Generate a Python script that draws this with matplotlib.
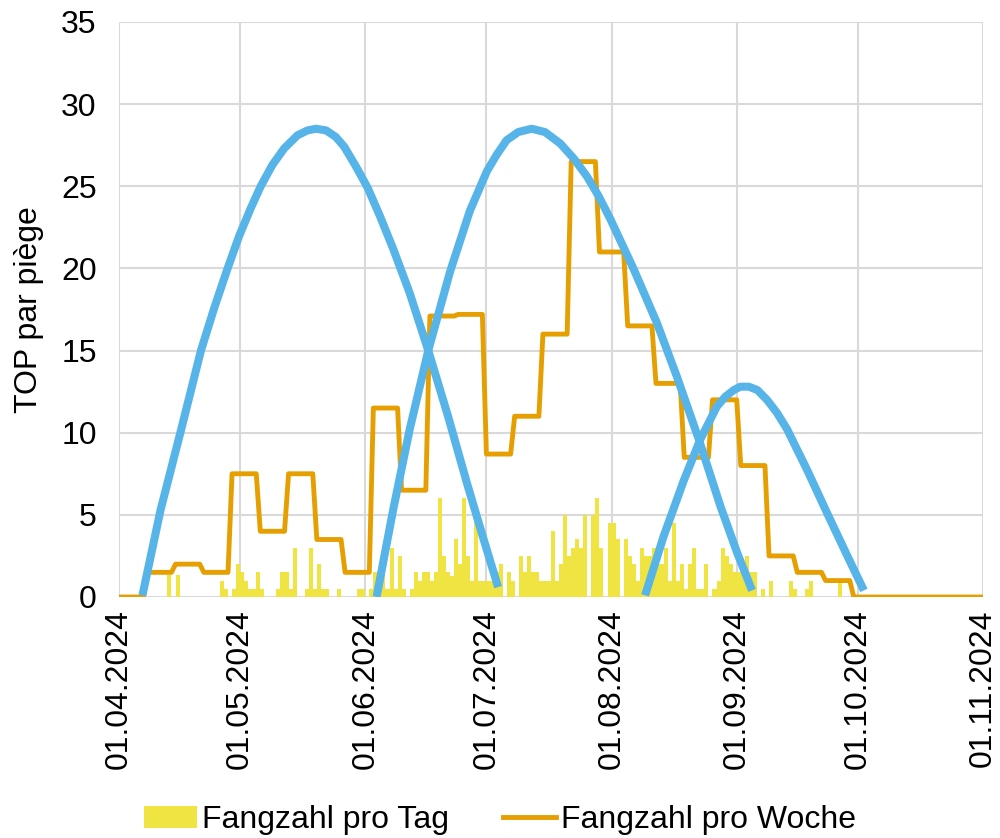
import numpy as np
import pandas as pd
import matplotlib
matplotlib.use("Agg")
import matplotlib.pyplot as plt
import matplotlib.dates as mdates
from matplotlib.patches import Patch
from matplotlib.lines import Line2D

plt.rcParams['font.family'] = ['Liberation Sans', 'DejaVu Sans']

start = pd.Timestamp("2024-04-01")
end = pd.Timestamp("2024-11-01")

# Fangzahl pro Tag: Tag (ab 01.04.2024) und TOP pro Falle
tag_offset = [12, 14, 25, 26, 28, 29, 30, 31, 32, 33, 34, 35,
              39, 40, 41, 42, 43, 46, 47, 48, 49, 50, 51, 54, 59, 60,
              62, 63, 64, 65, 66, 67, 68, 69, 70, 72, 73, 74, 75, 76, 77, 78,
              79, 80, 81, 82, 83, 84, 85, 86, 87, 88, 89, 90, 91, 92, 93, 94,
              96, 97, 99, 100, 101, 102, 103, 104, 105, 106, 107, 108, 109, 110,
              111, 112, 113, 114, 115, 117, 118, 119, 121, 122, 123, 125, 126,
              127, 128, 129, 130, 131, 132, 133, 134, 135, 136, 137, 138, 139,
              140, 141, 142, 143, 144, 145, 147, 148, 149, 150, 151, 152, 153,
              154, 155, 156, 157, 159, 161, 166, 167, 170, 171, 178]
tag_wert = [1.33, 1.33, 1.0, 0.5, 0.5, 2.0, 1.5, 1.0, 0.5, 0.5, 1.5, 0.5,
            0.5, 1.5, 1.5, 0.5, 3.0, 0.5, 3.0, 0.5, 2.0, 0.5, 0.5, 0.5, 0.5, 0.5,
            0.5, 1.5, 1.0, 1.5, 0.5, 3.0, 0.5, 2.5, 0.5, 0.5, 1.5, 1.0, 1.5, 1.5, 1.0, 1.5,
            6.0, 2.5, 1.5, 1.3, 3.5, 2.0, 6.0, 2.5, 1.0, 5.0, 1.0, 1.0, 1.0, 1.0, 1.5, 2.0,
            1.5, 1.0, 2.5, 1.5, 2.5, 1.5, 1.5, 1.0, 1.0, 1.0, 4.0, 1.0, 2.0, 5.0,
            2.5, 3.0, 3.5, 3.0, 5.0, 5.0, 6.0, 3.0, 4.5, 4.5, 3.5, 3.5, 2.5,
            2.0, 1.0, 3.0, 2.5, 2.5, 3.0, 2.0, 2.0, 3.0, 1.0, 4.5, 1.0, 2.0,
            0.5, 2.0, 3.0, 0.5, 0.5, 2.0, 0.5, 1.0, 3.0, 2.5, 2.0, 1.5, 1.5,
            1.5, 2.5, 1.5, 1.5, 0.5, 1.0, 1.0, 0.5, 0.5, 1.0, 1.0]

# Fangzahl pro Woche (Wochen ab Montag 01.04.2024)
woche_wert = [0, 1.5, 2, 1.5, 7.5, 4, 7.5, 3.5, 1.5, 11.5, 6.5, 17.1, 17.2,
              8.7, 11, 16, 26.5, 21, 16.5, 13, 8.5, 12, 8, 2.5, 1.5, 1,
              0, 0, 0, 0, 0]

# Generationskurven (Tag ab 01.04.2024, TOP pro Falle)
gen1_tag = [5.8, 10.3, 15.3, 20.3, 23.6, 26.9, 29.8, 32.7, 35.1, 38.0, 40.9,
            44.2, 46.7, 48.8, 51.3, 53.7, 55.8, 58.7, 61.6, 64.6, 67.9, 72.0,
            76.6, 81.5, 86.1, 90.2, 93.9]
gen1_wert = [0.1, 5.3, 10.1, 15.0, 17.6, 20.0, 22.0, 23.7, 25.0, 26.3, 27.3,
             28.1, 28.4, 28.5, 28.4, 28.0, 27.4, 26.2, 24.9, 23.2, 21.2, 18.5,
             15.0, 11.0, 7.0, 3.6, 0.6]
gen2_tag = [63.8, 67.9, 72.0, 76.6, 82.0, 86.9, 91.1, 93.5, 96.0, 98.9,
            102.2, 105.5, 109.3, 112.6, 115.9, 118.8, 121.7, 127.4, 133.2,
            138.2, 143.6, 149.0, 153.1, 156.8]
gen2_wert = [0.0, 5.3, 10.2, 15.0, 19.8, 23.5, 25.9, 26.9, 27.8, 28.3,
             28.5, 28.3, 27.6, 26.7, 25.6, 24.4, 23.0, 20.0, 16.7,
             13.4, 9.6, 5.5, 2.7, 0.4]
gen3_tag = [130.3, 134.9, 139.9, 144.0, 148.1, 150.2, 152.3, 153.9, 156.0,
            158.1, 160.5, 163.0, 165.5, 170.5, 175.4, 180.4, 184.5]
gen3_wert = [0.1, 3.7, 7.1, 9.6, 11.6, 12.2, 12.6, 12.8, 12.8,
             12.6, 12.0, 11.2, 10.2, 7.7, 5.1, 2.5, 0.4]

c_tag = "#F0E442"
c_woche = "#E69F00"
c_gen = "#56B4E9"


def to_dates(offsets):
    return start + pd.to_timedelta(np.asarray(offsets, dtype=float), unit="D")


n_days = (end - start).days + 1
tage = pd.date_range(start, end, freq="D")
woche_daily = np.repeat(woche_wert, 7)[:n_days]

fig = plt.figure(figsize=(10, 8.38), dpi=100)
ax = fig.add_axes([0.119, 0.2876, 0.864, 0.6862])

ax.bar(to_dates(tag_offset), tag_wert, width=1.0, align="edge",
       color=c_tag, zorder=2)
ax.plot(tage, woche_daily, color=c_woche, lw=3.5, zorder=3,
        solid_joinstyle="round", solid_capstyle="round")
for t, w in [(gen1_tag, gen1_wert), (gen2_tag, gen2_wert), (gen3_tag, gen3_wert)]:
    ax.plot(to_dates(t), w, color=c_gen, lw=5.8, zorder=4,
            solid_joinstyle="round", solid_capstyle="butt")

ax.set_xlim(start, end)
ax.set_ylim(0, 35)
ax.set_yticks(np.arange(0, 36, 5))
months = pd.date_range(start, end, freq="MS")
ax.set_xticks(months)
ax.xaxis.set_major_formatter(mdates.DateFormatter("%d.%m.%Y"))
for lbl in ax.get_xticklabels():
    lbl.set_rotation(90)
    lbl.set_ha("center")
    lbl.set_va("top")

ax.tick_params(axis="both", length=0, labelsize=23)
ax.tick_params(axis="y", pad=16)
ax.tick_params(axis="x", pad=9)
ax.grid(True, color="#D9D9D9", lw=1.5, zorder=0)
ax.set_axisbelow(True)
for s in ax.spines.values():
    s.set_visible(False)

ax.set_ylabel("TOP par piège", fontsize=23, labelpad=12)

handles = [Patch(facecolor=c_tag, edgecolor="none"),
           Line2D([0], [0], color=c_woche, lw=3.5)]
fig.legend(handles, ["Fangzahl pro Tag", "Fangzahl pro Woche"],
           loc="lower center", bbox_to_anchor=(0.5, -0.031), ncol=2,
           frameon=False, fontsize=23, handlelength=1.65, handleheight=0.7,
           handletextpad=0.15, columnspacing=1.7)

fig.savefig("out.png", dpi=100)
